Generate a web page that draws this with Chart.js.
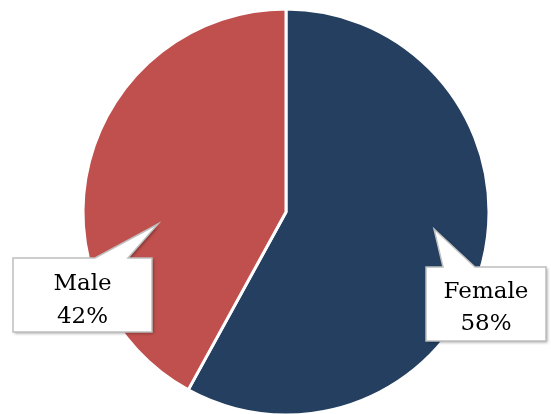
<!DOCTYPE html>
<html>
<head>
<meta charset="utf-8">
<script src="https://cdn.jsdelivr.net/npm/chart.js@4"></script>
<style>
  html, body { margin: 0; padding: 0; background: #fff; }
  #wrap { width: 551px; height: 414px; position: relative; }
</style>
</head>
<body>
<div id="wrap"><canvas id="genderChart"></canvas></div>
<script>
const categories = ['Female', 'Male'];
const shares = [58, 42];
const sliceColors = ['#243F60', '#C0504D'];

// callout boxes: box rect + pointer tip, in canvas pixels
const callouts = [
    { box: [426, 267, 120, 74], base: [443, 475], tip: [434, 229], baselines: [298, 330] },
    { box: [13, 258, 139, 74], base: [95, 128], tip: [158, 224], baselines: [290, 323] }
];

const calloutPlugin = {
    id: 'callouts',
    afterDraw(chart) {
        const ctx = chart.ctx;
        callouts.forEach((c, i) => {
            const [x, y, w, h] = c.box;
            const path = () => {
                ctx.beginPath();
                ctx.moveTo(x, y);
                ctx.lineTo(c.base[0], y);
                ctx.lineTo(c.tip[0], c.tip[1]);
                ctx.lineTo(c.base[1], y);
                ctx.lineTo(x + w, y);
                ctx.lineTo(x + w, y + h);
                ctx.lineTo(x, y + h);
                ctx.closePath();
            };
            ctx.save();
            ctx.shadowColor = 'rgba(0,0,0,0.35)';
            ctx.shadowBlur = 3;
            ctx.shadowOffsetX = 1.5;
            ctx.shadowOffsetY = 1.5;
            path();
            ctx.fillStyle = '#ffffff';
            ctx.fill();
            ctx.restore();

            ctx.save();
            path();
            ctx.lineWidth = 1.5;
            ctx.strokeStyle = '#bfbfbf';
            ctx.stroke();
            ctx.fillStyle = '#000';
            ctx.font = '23px "DejaVu Serif", serif';
            ctx.textAlign = 'center';
            ctx.textBaseline = 'alphabetic';
            const cx = x + w / 2;
            ctx.fillText(categories[i], cx, c.baselines[0]);
            ctx.fillText(shares[i] + '%', cx, c.baselines[1]);
            ctx.restore();
        });
    }
};

new Chart(document.getElementById('genderChart'), {
    type: 'pie',
    data: {
        labels: categories,
        datasets: [{
            data: shares,
            backgroundColor: sliceColors,
            borderColor: '#ffffff',
            borderWidth: 3
        }]
    },
    options: {
        responsive: true,
        maintainAspectRatio: false,
        animation: false,
        radius: 203,
        layout: { padding: { left: 21, right: 0, top: 10, bottom: 0 } },
        plugins: {
            legend: { display: false },
            tooltip: { enabled: false }
        }
    },
    plugins: [calloutPlugin]
});
</script>
</body>
</html>
